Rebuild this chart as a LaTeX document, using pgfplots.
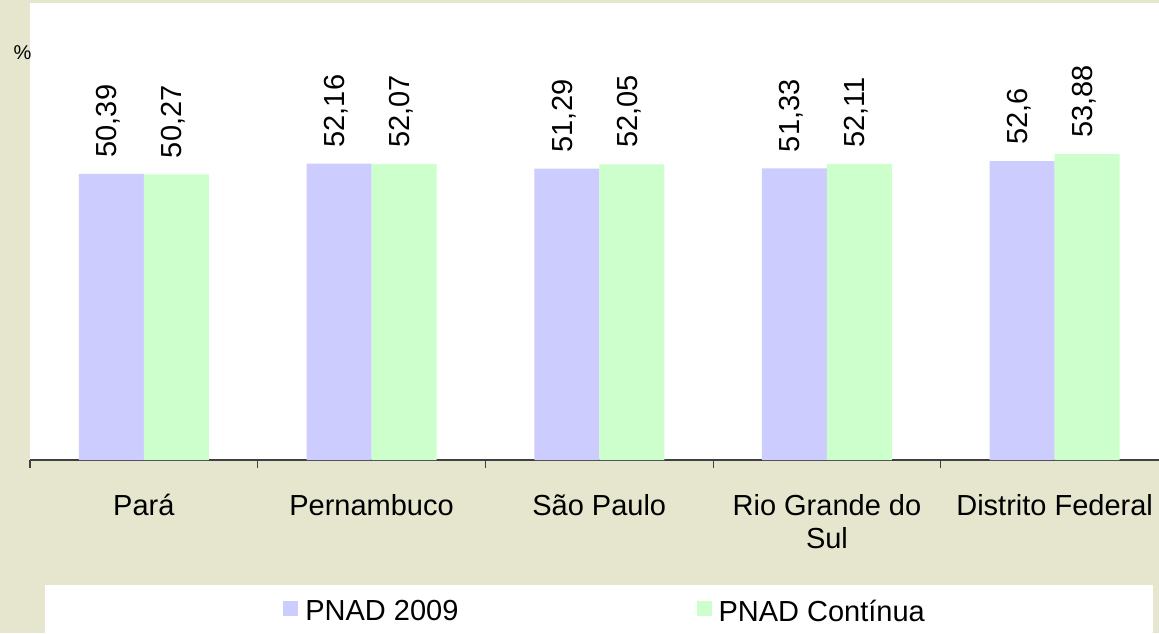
\documentclass[border=0pt]{standalone}
\usepackage{fontspec}
\setmainfont{Liberation Sans}
\usepackage{pgfplots}
\pgfplotsset{compat=1.18}
\definecolor{bgk}{RGB}{230,230,206}
\definecolor{barblue}{RGB}{204,204,255}
\definecolor{bargreen}{RGB}{204,255,204}
\definecolor{axisgray}{RGB}{64,64,64}
\newcommand{\bigf}{\fontsize{14.5}{16.5}\selectfont}
\newcommand{\fl}{\rule{0pt}{12pt}}
\begin{document}
\begin{tikzpicture}
\fill[bgk] (0,0) rectangle (579.5pt,316.5pt);
\fill[white] (15pt,86.5pt) rectangle (579.5pt,315pt);
\fill[white] (22.5pt,0pt) rectangle (576.5pt,24pt);
\begin{axis}[
  at={(15pt,86.5pt)}, anchor=south west,
  scale only axis, width=569.25pt, height=227.2pt,
  xmin=-0.5, xmax=4.5, ymin=0, ymax=80,
  clip=false,
  axis x line*=bottom, hide y axis,
  x axis line style={axisgray, line width=0.6pt, -},
  xtick={0,1,2,3,4},
  xticklabels={\fl Pará, \fl Pernambuco, \fl São Paulo, {\fl Rio Grande do\\Sul}, \fl Distrito Federal},
  major tick length=0pt,
  minor xtick={-0.5,0.5,1.5,2.5,3.5,4.5},
  minor tick length=4pt, tick align=outside,
  minor x tick style={axisgray, line width=0.6pt},
  xticklabel style={font=\bigf, align=center, anchor=north, inner sep=0pt, yshift=-15.5pt},
  ybar=0pt, bar width=32.5pt,
  nodes near coords,
  every node near coord/.append style={rotate=90, anchor=mid west, inner xsep=8pt, inner ysep=0pt, font=\bigf, black},
  /pgf/number format/.cd, use comma, fixed, precision=2, assume math mode=true, /pgfplots/.cd,
  legend columns=2,
  legend style={at={(0.2222,-0.3345)}, anchor=west, draw=none, fill=none, inner sep=0pt, font=\bigf,
    nodes={inner sep=0pt},
    /tikz/every odd column/.append style={column sep=3.5pt},
    /tikz/every even column/.append style={column sep=119pt}},
  legend image code/.code={\fill[#1,draw=none] (0pt,-2pt) rectangle (7.5pt,5.5pt);},
]
\addplot[fill=barblue, draw=none] coordinates {(0,50.39) (1,52.16) (2,51.29) (3,51.33) (4,52.6)};
\addplot[fill=bargreen, draw=none] coordinates {(0,50.27) (1,52.07) (2,52.05) (3,52.11) (4,53.88)};
\legend{PNAD 2009, PNAD Contínua}
\node at (rel axis cs:-0.0066,0.8957) {\fontsize{10}{12}\selectfont\%};
\end{axis}
\pgfresetboundingbox
\useasboundingbox (0,0) rectangle (579.5pt,316.5pt);
\end{tikzpicture}
\end{document}
